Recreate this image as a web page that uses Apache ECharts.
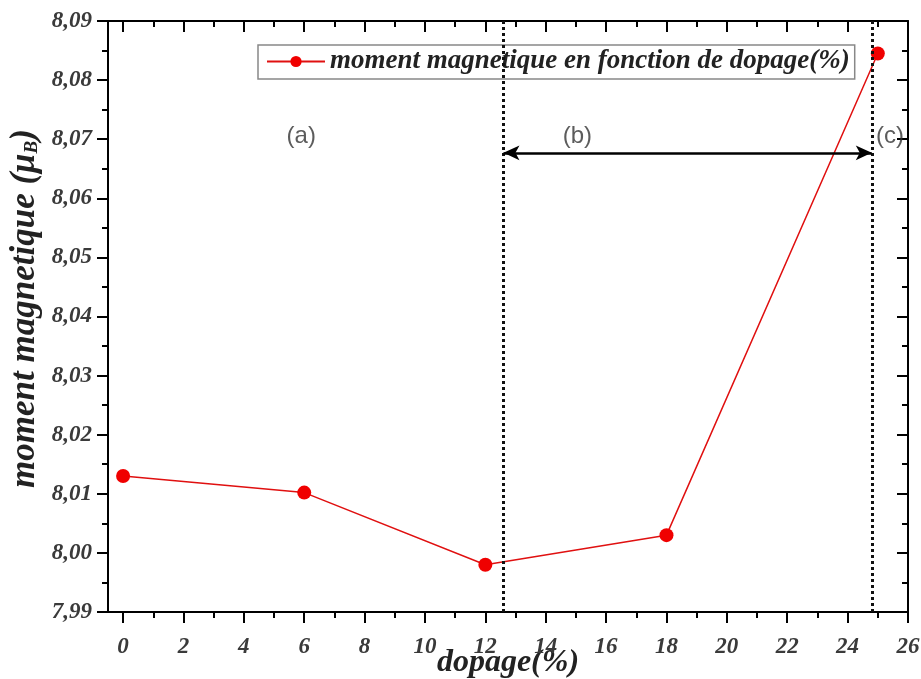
<!DOCTYPE html>
<html>
<head>
<meta charset="utf-8">
<script src="https://cdn.jsdelivr.net/npm/echarts@6/dist/echarts.min.js"></script>
<style>
  html, body { margin: 0; padding: 0; background: #fff; }
  #chartmain { width: 921px; height: 679px; }
</style>
</head>
<body>
<div id="chartmain"></div>
<script>
// donnees
var dopage = [0, 6, 12, 18, 25];
var moment = [8.013, 8.0102, 7.998, 8.003, 8.0845];
var xMajorTicks = [0, 2, 4, 6, 8, 10, 12, 14, 16, 18, 20, 22, 24, 26];
var xMinorTicks = [1, 3, 5, 7, 9, 11, 13, 15, 17, 19, 21, 23, 25];
var regionBounds = [12.6, 24.8];
var arrowY = 8.0677;
var regionLabels = ['(a)', '(b)', '(c)'];
var regionLabelX = [5.9, 15.05, 25.4];
var regionLabelY = [8.0705, 8.0705, 8.0705];

var serif = 'Liberation Serif';
var tickFont = { fontFamily: serif, fontWeight: 'bold', fontStyle: 'italic', fontSize: 23, color: '#3a3a3a' };

var points = [];
for (var i = 0; i < dopage.length; i++) {
	points.push([dopage[i], moment[i]]);
}
var labelPts = [];
for (var i = 0; i < regionLabels.length; i++) {
	labelPts.push({ value: [regionLabelX[i], regionLabelY[i]], name: regionLabels[i] });
}

var gridBox = { left: 108, right: 13, top: 21, bottom: 67, containLabel: false, outerBoundsMode: 'none' };
var axisLine = { show: true, onZero: false, lineStyle: { color: '#000', width: 2 } };
var majorLen = 11, minorLen = 6;

var option = {
	animation: false,
	grid: [
		Object.assign({}, gridBox),
		Object.assign({}, gridBox)
	],
	legend: {
		data: ['moment magnetique en fonction de dopage(%)'],
		left: 258,
		top: 45,
		padding: [3, 5, 4, 8],
		borderColor: '#888',
		borderWidth: 1.5,
		itemWidth: 58,
		itemHeight: 14,
		itemGap: 10,
		textStyle: { fontFamily: serif, fontWeight: 'bold', fontStyle: 'italic', fontSize: 27, color: '#222' }
	},
	xAxis: [ {
		type: 'value', gridIndex: 0, position: 'bottom',
		min: -0.5, max: 26,
		name: 'dopage(%)', nameLocation: 'middle', nameGap: 35, nameMoveOverlap: false,
		nameTextStyle: { fontFamily: serif, fontWeight: 'bold', fontStyle: 'italic', fontSize: 32, color: '#222' },
		axisLine: axisLine,
		axisTick: { show: true, customValues: xMajorTicks, length: majorLen, lineStyle: { color: '#000', width: 2 } },
		axisLabel: Object.assign({ customValues: xMajorTicks, margin: 24 }, tickFont),
		splitLine: { show: false }
	}, {
		type: 'value', gridIndex: 0, position: 'top',
		min: -0.5, max: 26,
		axisLine: axisLine,
		axisTick: { show: true, inside: true, customValues: xMajorTicks, length: majorLen, lineStyle: { color: '#000', width: 2 } },
		axisLabel: { show: false },
		splitLine: { show: false }
	}, {
		type: 'value', gridIndex: 1, position: 'bottom',
		min: -0.5, max: 26,
		axisLine: { show: false, onZero: false },
		axisTick: { show: true, customValues: xMinorTicks, length: minorLen, lineStyle: { color: '#000', width: 2 } },
		axisLabel: { show: false },
		splitLine: { show: false }
	}, {
		type: 'value', gridIndex: 1, position: 'top',
		min: -0.5, max: 26,
		axisLine: { show: false, onZero: false },
		axisTick: { show: true, inside: true, customValues: xMinorTicks, length: minorLen, lineStyle: { color: '#000', width: 2 } },
		axisLabel: { show: false },
		splitLine: { show: false }
	} ],
	yAxis: [ {
		type: 'value', gridIndex: 0, position: 'left',
		min: 7.99, max: 8.09, interval: 0.01,
		name: 'moment magnetique (μ{sub|B})', nameLocation: 'middle', nameGap: 66, nameMoveOverlap: false,
		nameTextStyle: {
			fontFamily: serif, fontWeight: 'bold', fontStyle: 'italic', fontSize: 35, color: '#222',
			padding: [0, 0, 0, 16],
			rich: { sub: { fontFamily: serif, fontWeight: 'bold', fontStyle: 'italic', fontSize: 19, color: '#222', verticalAlign: 'bottom', padding: [14, 0, 0, 0] } }
		},
		axisLine: axisLine,
		axisTick: { show: true, length: majorLen, lineStyle: { color: '#000', width: 2 } },
		minorTick: { show: true, splitNumber: 2, length: minorLen, lineStyle: { color: '#000', width: 2 } },
		axisLabel: Object.assign({ margin: 16, formatter: function (v) { return v.toFixed(2).replace('.', ','); } }, tickFont),
		splitLine: { show: false }
	}, {
		type: 'value', gridIndex: 0, position: 'right',
		min: 7.99, max: 8.09, interval: 0.01,
		axisLine: axisLine,
		axisTick: { show: true, inside: true, length: majorLen, lineStyle: { color: '#000', width: 2 } },
		minorTick: { show: true, splitNumber: 2, length: minorLen, lineStyle: { color: '#000', width: 2 } },
		axisLabel: { show: false },
		splitLine: { show: false }
	}, {
		type: 'value', gridIndex: 1, min: 7.99, max: 8.09, show: false
	} ],
	series: [ {
		name: 'moment magnetique en fonction de dopage(%)',
		type: 'line',
		xAxisIndex: 0, yAxisIndex: 0,
		data: points,
		symbol: 'circle',
		symbolSize: 14,
		itemStyle: { color: '#f00000' },
		lineStyle: { color: '#e01010', width: 1.5 },
		markLine: {
			silent: true,
			animation: false,
			symbol: ['none', 'none'],
			label: { show: false },
			lineStyle: { type: [3, 3], color: '#111', width: 3 },
			data: [
				{ xAxis: regionBounds[0] },
				{ xAxis: regionBounds[1] },
				[
					{ coord: [regionBounds[0], arrowY], symbol: 'arrow', symbolSize: [11, 16], lineStyle: { type: 'solid', color: '#000', width: 2.5 } },
					{ coord: [regionBounds[1], arrowY], symbol: 'arrow', symbolSize: [11, 16], lineStyle: { type: 'solid', color: '#000', width: 2.5 } }
				]
			]
		},
		z: 3
	}, {
		name: 'labels',
		type: 'scatter',
		xAxisIndex: 0, yAxisIndex: 0,
		data: labelPts,
		symbolSize: 1,
		itemStyle: { color: 'rgba(0,0,0,0)' },
		label: {
			show: true, position: 'inside',
			formatter: function (p) { return p.name; },
			fontFamily: 'Liberation Sans', fontSize: 24, color: '#333'
		},
		silent: true
	} ]
};

var myChart = echarts.init(document.getElementById('chartmain'));
myChart.setOption(option);
</script>
</body>
</html>
